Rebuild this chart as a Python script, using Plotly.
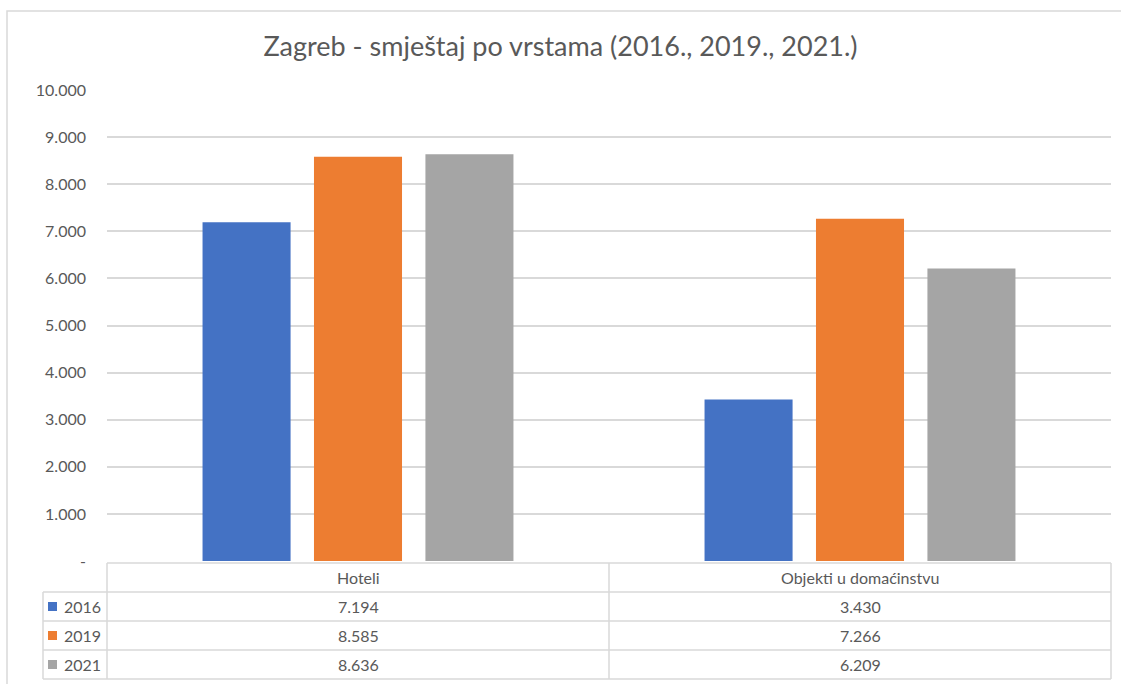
import plotly.graph_objects as go

# --- data ---
CATEGORIES = ["Hoteli", "Objekti u domaćinstvu"]
YEARS = ["2016", "2019", "2021"]
VALUES_2016 = [7194, 3430]
VALUES_2019 = [8585, 7266]
VALUES_2021 = [8636, 6209]
Y_TICKS = [0, 1000, 2000, 3000, 4000, 5000, 6000, 7000, 8000, 9000, 10000]

COLORS = ["#4472C4", "#ED7D31", "#A5A5A5"]
GRID = "#D9D9D9"
TXT = "#595959"
FONT = "Lato, 'Open Sans', sans-serif"


def fmt(v):
    # Croatian thousands separator, zero shown as a dash (Excel accounting style)
    return "-" if v == 0 else f"{v:,}".replace(",", ".")


series = [VALUES_2016, VALUES_2019, VALUES_2021]

fig = go.Figure()
for year, vals, col in zip(YEARS, series, COLORS):
    fig.add_trace(go.Bar(
        x=CATEGORIES, y=vals, name=year,
        marker_color=col, marker_line_width=0,
    ))

# ----- data table under the plot (paper y below 0) -----
W, H = 1121, 684
ML, MR, MT, MB = 107, 10, 90, 123
plot_h = H - MT - MB
plot_w = W - ML - MR


def py(pix):   # pixel row -> paper y
    return (H - MB - pix) / plot_h


def px_(pix):  # pixel col -> paper x
    return (pix - ML) / plot_w


row_lines = [563, 592, 621, 650, 679]
shapes = []
line = dict(color=GRID, width=1.5)
# header top line (only over value columns)
shapes.append(dict(type="line", xref="paper", yref="paper",
                   x0=0, x1=1, y0=py(row_lines[0]), y1=py(row_lines[0]), line=line))
for r in row_lines[1:]:
    shapes.append(dict(type="line", xref="paper", yref="paper",
                       x0=px_(43), x1=1, y0=py(r), y1=py(r), line=line))
# verticals
shapes.append(dict(type="line", xref="paper", yref="paper",
                   x0=px_(43), x1=px_(43), y0=py(592), y1=py(679), line=line))
for xv in [0, 1]:
    shapes.append(dict(type="line", xref="paper", yref="paper",
                       x0=xv, x1=xv, y0=py(563), y1=py(679), line=line))
shapes.append(dict(type="line", xref="x", yref="paper",
                   x0=0.5, x1=0.5, y0=py(563), y1=py(679), line=line))
# outer chart border
shapes.append(dict(type="rect", xref="paper", yref="paper",
                   x0=px_(7), x1=px_(1130), y0=py(700), y1=py(11),
                   line=dict(color=GRID, width=1.5)))

annotations = []
tf = dict(family=FONT, size=16, color=TXT)
# header cells
for cat in CATEGORIES:
    annotations.append(dict(x=cat, y=py(577.5), xref="x", yref="paper",
                            text=cat, showarrow=False, yanchor="middle", font=tf))
# value rows + legend keys
for i, (year, vals, col) in enumerate(zip(YEARS, series, COLORS)):
    yc = py((row_lines[i + 1] + row_lines[i + 2]) / 2)
    for cat, v in zip(CATEGORIES, vals):
        annotations.append(dict(x=cat, y=yc, xref="x", yref="paper",
                                text=fmt(v), showarrow=False, yanchor="middle", font=tf))
    annotations.append(dict(x=px_(62), y=yc, xref="paper", yref="paper",
                            text=year, showarrow=False, xanchor="left", yanchor="middle",
                            font=tf))
    shapes.append(dict(type="rect", xref="paper", yref="paper",
                       x0=px_(48), x1=px_(57), y0=yc - 4.5 / plot_h, y1=yc + 4.5 / plot_h,
                       fillcolor=col, line=dict(width=0)))

fig.update_layout(
    width=W, height=H,
    margin=dict(l=ML, r=MR, t=MT, b=MB),
    paper_bgcolor="white", plot_bgcolor="white",
    font=dict(family=FONT, color=TXT),
    title=dict(text="Zagreb - smještaj po vrstama (2016., 2019., 2021.)",
               x=0.5, xanchor="center", y=1 - 47 / H, yanchor="middle",
               font=dict(family=FONT, size=27, color=TXT)),
    showlegend=False,
    barmode="group", bargap=0.334, bargroupgap=0.21,
    shapes=shapes, annotations=annotations,
)
fig.update_xaxes(showticklabels=False, showgrid=False, zeroline=False, showline=False)
fig.update_yaxes(range=[0, 10000], tickvals=Y_TICKS, ticktext=[fmt(v) for v in Y_TICKS],
                 showgrid=True, gridcolor=GRID, gridwidth=1.5, zeroline=False,
                 tickfont=dict(family=FONT, size=16, color=TXT),
                 ticklabelstandoff=20)

fig.write_html("out.html", config={"displayModeBar": False},
               post_script="document.body.style.margin='0';")
